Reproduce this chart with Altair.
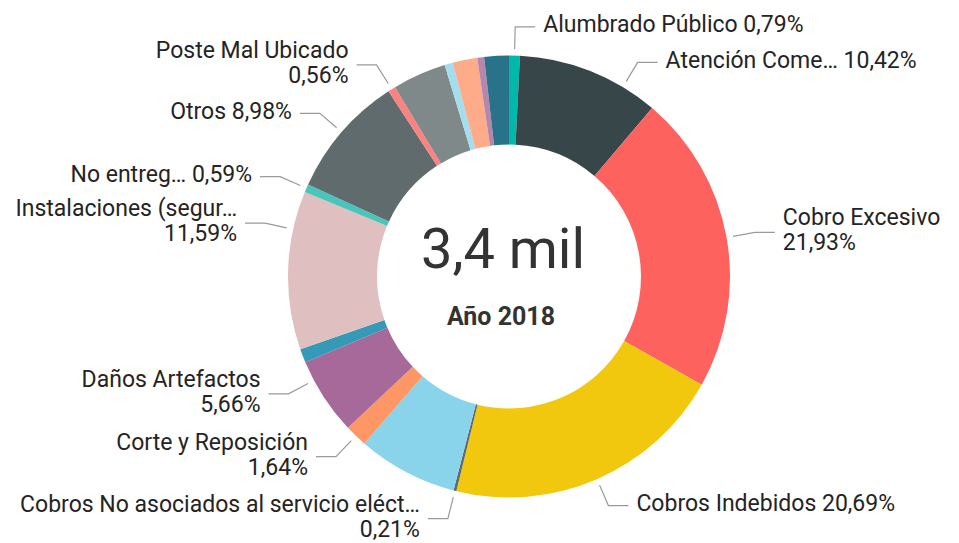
import math
import altair as alt
import pandas as pd

# ---- data ----
categories = [
    "Alumbrado Público", "Atención Comercial", "Cobro Excesivo", "Cobros Indebidos",
    "Cobros No asociados al servicio eléctrico", "Conexiones", "Corte y Reposición",
    "Daños Artefactos", "Facturación", "Instalaciones (seguridad)", "No entregó factura",
    "Otros", "Poste Mal Ubicado", "Reconexión", "Servicio Técnico", "Suspensión",
    "Tarifas", "Variaciones de Voltaje",
]
shares = [0.79, 10.42, 21.93, 20.69, 0.21, 7.32, 1.64, 5.66, 1.00, 11.59, 0.59,
          8.98, 0.56, 3.92, 0.60, 1.80, 0.50, 1.80]
colors = ["#01B8AA", "#374649", "#FD625E", "#F2C80F", "#5F6B6D", "#8AD4EB", "#FE9666",
          "#A66999", "#3599B8", "#DFBFBF", "#4AC5BB", "#5F6B6D", "#FB8281", "#7F898A",
          "#A4DDEE", "#FDAB89", "#B687AC", "#28738A"]
label_names = ["Alumbrado Público", "Atención Come…", "Cobro Excesivo", "Cobros Indebidos",
               "Cobros No asociados al servicio eléct…", None, "Corte y Reposición",
               "Daños Artefactos", None, "Instalaciones (segur…", "No entreg…", "Otros",
               "Poste Mal Ubicado", None, None, None, None, None]
total_text = "3,4 mil"
subtitle_text = "Año 2018"

# ---- label layout ----
label_wrap = [False, False, True, False, True, False, True, True, False, True, False,
              False, True, False, False, False, False, False]
label_nudge_deg = [0, 9.4, 0, 0, 0, 0, 0, 5, 0, 10.7, 0, 0, 0, 0, 0, 0, 0, 0]

W, H = 940, 535
CX, CY = 501, 268.5      # donut centre in chart pixels
R_OUT, R_IN = 221, 132   # pixels
LINE_GAP = 12.5 / R_OUT
R_START, R_ELBOW, HSEG, TGAP = 1.03, 1.13, 20 / R_OUT, 8 / R_OUT

xs = alt.Scale(domain=[-CX / R_OUT, (W - CX) / R_OUT], nice=False, zero=False)
ys = alt.Scale(domain=[-(H - CY) / R_OUT, CY / R_OUT], nice=False, zero=False)

def pct(v):
    return f"{v:.2f}".replace(".", ",") + "%"

slices = pd.DataFrame({"category": categories, "share": shares, "idx": range(len(categories))})

lead_rows, text_rows = [], []
cum = 0.0
for i, (name, v) in enumerate(zip(label_names, shares)):
    mid = cum + v / 2
    cum += v
    if name is None:
        continue
    a = math.radians(mid / 100 * 360 + label_nudge_deg[i])
    side = 1 if math.sin(a) >= 0 else -1
    xs0, ys0 = R_START * math.sin(a), R_START * math.cos(a)
    xe, ye = R_ELBOW * math.sin(a), R_ELBOW * math.cos(a)
    xh = xe + side * HSEG
    for k, (px, py) in enumerate([(xs0, ys0), (xe, ye), (xh, ye)]):
        lead_rows.append({"label": name, "pt": k, "x": px, "y": py})
    tx = xh + side * TGAP
    if label_wrap[i]:
        text_rows.append({"text": name, "x": tx, "y": ye + LINE_GAP, "side": side})
        text_rows.append({"text": pct(v), "x": tx, "y": ye - LINE_GAP, "side": side})
    else:
        text_rows.append({"text": f"{name} {pct(v)}", "x": tx, "y": ye, "side": side})

leaders = pd.DataFrame(lead_rows)
texts = pd.DataFrame(text_rows)
centre = pd.DataFrame({"text": [total_text, subtitle_text], "y": [25.5 / R_OUT, -40 / R_OUT],
                       "kind": ["big", "small"]})

arcs = alt.Chart(slices).mark_arc(innerRadius=R_IN, outerRadius=R_OUT, strokeWidth=0).encode(
    theta=alt.Theta("share:Q", stack=True),
    color=alt.Color("category:N", scale=alt.Scale(domain=categories, range=colors), legend=None),
    order=alt.Order("idx:Q"),
    x=alt.XDatum(0, scale=xs, axis=None),
    y=alt.YDatum(0, scale=ys, axis=None),
)

lines = alt.Chart(leaders).mark_line(color="#9a9a9a", strokeWidth=1.2).encode(
    x=alt.X("x:Q", scale=xs, axis=None),
    y=alt.Y("y:Q", scale=ys, axis=None),
    detail="label:N",
    order="pt:Q",
)

txt_common = dict(baseline="middle", font="Roboto", fontSize=23, color="#252423", dy=-1.5)
right_txt = alt.Chart(texts).transform_filter("datum.side > 0").mark_text(align="left", **txt_common).encode(
    x=alt.X("x:Q", scale=xs, axis=None), y=alt.Y("y:Q", scale=ys, axis=None), text="text:N")
left_txt = alt.Chart(texts).transform_filter("datum.side < 0").mark_text(align="right", **txt_common).encode(
    x=alt.X("x:Q", scale=xs, axis=None), y=alt.Y("y:Q", scale=ys, axis=None), text="text:N")

big = alt.Chart(centre).transform_filter("datum.kind == 'big'").mark_text(
    align="center", baseline="middle", font="Roboto", fontSize=56, color="#333333", dx=-6).encode(
    x=alt.XDatum(0, scale=xs, axis=None), y=alt.Y("y:Q", scale=ys, axis=None), text="text:N")
small = alt.Chart(centre).transform_filter("datum.kind == 'small'").mark_text(
    align="center", baseline="middle", font="Roboto", fontSize=25, fontWeight="bold", color="#333333", dx=-8).encode(
    x=alt.XDatum(0, scale=xs, axis=None), y=alt.Y("y:Q", scale=ys, axis=None), text="text:N")

chart = alt.layer(arcs, lines, right_txt, left_txt, big, small).properties(
    width=W, height=H, padding=0, background="white"
).configure_view(stroke=None)

chart.save("out.html", embed_options={"renderer": "svg", "actions": False})
